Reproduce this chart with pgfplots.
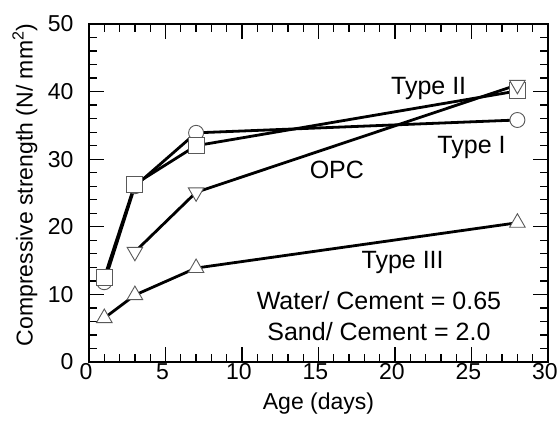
\documentclass[border=0pt]{standalone}
\usepackage{fontspec}
\setmainfont{Liberation Sans}
\usepackage{pgfplots}
\usepackage{pgfplotstable}
\pgfplotsset{compat=1.18}
\tikzset{mk/.style={fill=white, draw=black!65, line width=0.9pt}}

% age (days) vs compressive strength (N/mm2)
\pgfplotstableread{
d s
1 11.8
3 26.0
7 33.9
28 35.8
}\typeI
\pgfplotstableread{
d s
1 12.5
3 26.3
7 32.0
28 40.1
}\typeII
\pgfplotstableread{
d s
3 16.3
7 25.1
28 41.0
}\opc
\pgfplotstableread{
d s
1 6.5
3 9.9
7 13.9
28 20.6
}\typeIII

\begin{document}
\begin{tikzpicture}
\path[use as bounding box] (-89pt,-59pt) rectangle (469pt,362pt);
\begin{axis}[
  scale only axis,
  width=459pt, height=338pt,
  xmin=0, xmax=30, ymin=0, ymax=50,
  xtick={0,5,...,30}, ytick={0,10,...,50},
  minor x tick num=4, minor y tick num=4,
  tick align=inside,
  major tick length=15pt, minor tick length=8pt,
  every tick/.style={black, line width=1.3pt},
  axis line style={line width=2pt},
  /pgf/number format/assume math mode=true,
  tick label style={font=\fontsize{23}{27}\selectfont},
  xticklabel style={yshift=2pt, xshift=-3pt},
  yticklabel style={xshift=-12pt},
  label style={font=\fontsize{23}{27}\selectfont},
  xlabel={Age (days)},
  ylabel={Compressive strength (N/ mm\textsuperscript{2})},
  xlabel style={at={(axis description cs:0.5,0)}, anchor=north, yshift=-27pt},
  ylabel style={at={(axis description cs:0,0.524)}, anchor=center, yshift=64pt},
  every axis plot/.append style={line width=2.8pt, black},
]
% lines first
\addplot[no markers] table[x=d,y=s] {\typeI};
\addplot[no markers] table[x=d,y=s] {\typeII};
\addplot[no markers] table[x=d,y=s] {\opc};
\addplot[no markers] table[x=d,y=s] {\typeIII};
% markers on top
\addplot[only marks, mark=*, mark size=7.5pt, mark options={mk}] table[x=d,y=s] {\typeI};
\addplot[only marks, mark=square*, mark size=8pt, mark options={mk}] table[x=d,y=s] {\typeII};
\addplot[only marks, mark=triangle*, mark size=9pt, mark options={mk, rotate=180}] table[x=d,y=s] {\opc};
\addplot[only marks, mark=triangle*, mark size=9pt, mark options={mk}] table[x=d,y=s] {\typeIII};

\begin{scope}[every node/.style={font=\fontsize{25}{29}\selectfont, anchor=base}]
\node at (axis cs:22.2,39.6) {Type II};
\node at (axis cs:25.0,30.8) {Type I};
\node at (axis cs:16.2,27.2) {OPC};
\node at (axis cs:20.5,13.9) {Type III};
\node at (axis cs:18.95,7.7) {Water/ Cement = 0.65};
\node at (axis cs:18.95,3.25) {Sand/ Cement = 2.0};
\end{scope}
\end{axis}
\end{tikzpicture}
\end{document}
